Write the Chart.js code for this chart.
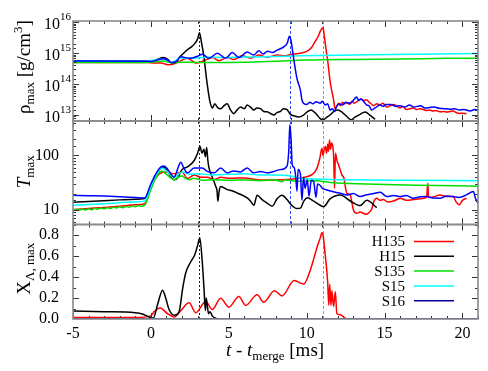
<!DOCTYPE html>
<html><head><meta charset="utf-8">
<script src="https://cdn.jsdelivr.net/npm/chart.js@4/dist/chart.umd.min.js"></script>
<style>html,body{margin:0;padding:0;background:#fff}#wrap{width:488px;height:371px}</style>
</head><body><div id="wrap"><canvas id="c" width="488" height="371"></canvas></div>
<script>
// ---------- data (t - t_merge [ms], value) ----------
const seriesNames = ['H135','H15','S135','S15','S16'];
const xMajorTicks = [-5,0,5,10,15,20];
const rhoDecades = [13,14,15,16];
const tempLabels = [10,100];
const markerTimes = [3.1, 8.95, 11.05];

// rho_max [g/cm^3]
const H135_rho = [[-5,5.0e14],[-2,5.0e14],[-0.3,5.0e14],[0.3,4.8e14],[0.64,4.8e14],[1.17,4.2e14],[1.7,5.0e14],[2.35,6.8e14],[2.9,4.8e14],[3.4,5.7e14],[3.95,7.2e14],[4.37,5.7e14],[4.9,7.2e14],[5.33,6.2e14],[5.86,8.3e14],[6.4,6.9e14],[6.93,8.7e14],[7.46,7.4e14],[8.1,8.7e14],[8.6,8.3e14],[9.17,9.4e14],[9.6,1.0e15],[10.04,1.17e15],[10.3,1.5e15],[10.56,2.45e15],[10.75,3.6e15],[10.87,5.1e15],[10.97,6.2e15],[11.05,6.6e15],[11.12,4.0e15],[11.2,1.95e15],[11.28,1.0e15],[11.35,5.8e14],[11.42,2.8e14],[11.5,1.3e14],[11.6,6.5e13],[11.7,3.8e13],[11.83,1.6e13],[11.95,2.0e13],[12.05,2.4e13],[12.16,2.0e13],[12.3,2.6e13],[12.4,2.3e13],[12.58,2.5e13],[12.75,2.2e13],[12.9,2.8e13],[13.05,2.4e13],[13.22,2.7e13],[13.35,3.0e13],[13.5,3.3e13],[13.65,2.9e13],[13.86,3.1e13],[14.0,2.6e13],[14.1,2.4e13],[14.3,2.0e13],[14.5,2.3e13],[14.7,2.1e13],[14.9,2.4e13],[15.14,1.8e13],[15.35,2.0e13],[15.6,2.2e13],[15.8,1.9e13],[15.99,1.7e13],[16.2,1.9e13],[16.4,1.5e13],[16.6,1.6e13],[16.85,1.7e13],[17.05,1.5e13],[17.3,1.6e13],[17.5,1.5e13],[17.7,1.4e13],[17.9,1.45e13],[18.1,1.35e13],[18.3,1.4e13],[18.55,1.27e13],[18.8,1.3e13],[19.0,1.25e13],[19.2,1.3e13],[19.4,1.35e13],[19.6,1.2e13],[19.8,1.12e13],[20.0,1.15e13],[20.26,1.1e13]];
const H15_rho = [[-5,5.6e14],[-1,5.6e14],[-0.3,5.5e14],[0,5.4e14],[0.4,6.3e14],[0.8,7.2e14],[1.1,6.2e14],[1.3,4.9e14],[1.6,5.0e14],[1.9,8.0e14],[2.1,1.0e15],[2.35,1.3e15],[2.6,1.6e15],[2.8,2.0e15],[3.0,2.9e15],[3.12,4.6e15],[3.25,2.2e15],[3.4,7.9e14],[3.6,1.15e14],[3.8,2.6e13],[3.95,1.7e13],[4.1,2.3e13],[4.3,1.7e13],[4.48,1.6e13],[4.7,2.0e13],[4.9,2.3e13],[5.1,1.5e13],[5.33,1.1e13],[5.5,1.4e13],[5.76,1.8e13],[6.0,1.6e13],[6.18,2.1e13],[6.4,1.8e13],[6.61,1.45e13],[6.8,1.7e13],[7.04,1.6e13],[7.25,1.3e13],[7.46,1.27e13],[7.7,1.1e13],[7.89,1.0e13],[8.1,1.2e13],[8.32,1.3e13],[8.5,1.6e13],[8.74,1.5e13],[8.96,1.05e13],[9.17,9.5e12],[9.5,8.6e12],[9.8,1.0e13],[10.02,1.25e13],[10.28,1.45e13],[10.6,1.1e13],[10.85,7.8e12],[11.05,7.0e12],[11.3,8.5e12],[11.5,1.0e13],[11.75,1.3e13],[12.0,1.45e13],[12.3,1.2e13],[12.6,8.8e12],[12.85,7.0e12],[13.1,8.5e12],[13.43,1.05e13],[13.75,1.25e13],[14.1,9.5e12],[14.4,7.3e12]];
const S135_rho = [[-5,5.0e14],[-0.3,5.0e14],[0.3,5.3e14],[0.8,5.6e14],[1.3,4.9e14],[2.0,5.1e14],[3.0,5.0e14],[4.0,5.0e14],[6.0,5.1e14],[8.0,5.5e14],[10.0,6.0e14],[13.0,6.3e14],[16.0,6.5e14],[19.0,6.8e14],[21.0,6.9e14]];
const S15_rho = [[-5,5.6e14],[-0.3,5.5e14],[0.4,6.2e14],[0.8,6.6e14],[1.3,5.0e14],[1.9,7.0e14],[2.6,6.8e14],[3.5,7.4e14],[4.5,7.3e14],[6.0,7.5e14],[8.0,7.8e14],[9.6,8.2e14],[13,8.7e14],[17,9.3e14],[21,9.8e14]];
const S16_rho = [[-5,5.6e14],[-0.3,5.5e14],[0,5.4e14],[0.4,6.0e14],[0.8,6.6e14],[1.1,5.8e14],[1.3,5.0e14],[1.6,5.3e14],[1.9,7.6e14],[2.5,6.8e14],[3.0,8.0e14],[3.3,9.3e14],[3.73,6.8e14],[4.27,1.0e15],[4.8,6.8e14],[5.22,1.05e15],[5.65,7.2e14],[6.18,1.1e15],[6.6,8.7e14],[6.93,1.2e15],[7.2,9.4e14],[7.5,1.15e15],[7.8,1.05e15],[8.1,1.25e15],[8.53,1.6e15],[8.75,2.1e15],[8.9,3.5e15],[9.0,2.5e15],[9.17,6.5e14],[9.38,1.5e14],[9.6,6.3e13],[9.7,3.0e13],[9.85,2.3e13],[10.02,2.2e13],[10.2,2.6e13],[10.4,2.3e13],[10.6,2.7e13],[10.87,2.4e13],[11.0,2.8e13],[11.2,2.1e13],[11.35,2.3e13],[11.5,1.45e13],[11.65,1.6e13],[11.8,1.3e13],[11.9,1.8e13],[12.1,2.3e13],[12.3,2.1e13],[12.5,2.6e13],[12.8,2.4e13],[13.0,3.0e13],[13.2,3.8e13],[13.35,3.0e13],[13.5,3.3e13],[13.7,2.6e13],[13.86,2.1e13],[14.0,2.0e13],[14.18,1.45e13],[14.4,1.7e13],[14.7,2.1e13],[14.9,1.9e13],[15.1,2.2e13],[15.4,2.2e13],[15.7,1.9e13],[15.99,2.0e13],[16.3,1.8e13],[16.6,2.1e13],[16.9,1.8e13],[17.3,2.0e13],[17.6,1.7e13],[17.9,1.75e13],[18.2,1.8e13],[18.5,1.65e13],[18.8,1.6e13],[19.2,1.55e13],[19.5,1.6e13],[19.8,1.45e13],[20.1,1.5e13],[20.5,1.35e13],[20.8,1.5e13],[21,1.45e13]];

// T_max [MeV]
const H135_T = [[-5,10.1],[-4,10.6],[-3,11.1],[-2,11.7],[-1,12.4],[-0.4,13],[0,25],[0.3,38],[0.64,48],[1.0,50],[1.49,46],[2.0,50],[2.35,37.6],[2.77,44],[3.2,40],[3.62,40],[4.05,36.1],[4.5,40],[5.0,38],[5.5,38.5],[6.0,38.7],[7.04,35.6],[7.9,35.6],[8.96,36.5],[9.6,38.5],[10.04,41],[10.4,46],[10.66,58],[10.85,90],[10.98,136],[11.05,100],[11.12,125],[11.2,146],[11.28,110],[11.35,160],[11.4,120],[11.47,193],[11.53,130],[11.6,170],[11.68,145],[11.73,100],[11.79,25],[11.85,110],[11.95,80],[12.05,67],[12.15,55],[12.26,44],[12.4,38],[12.5,25],[12.58,20.2],[12.8,19],[12.9,14],[13.0,10],[13.22,8.7],[13.43,9.2],[13.6,8.8],[13.86,8.3],[14.0,9.0],[14.18,10.4],[14.3,14],[14.5,16.4],[14.7,15],[14.92,15.5],[15.2,14],[15.57,14.6],[15.8,15.5],[16.0,16.4],[16.4,15],[16.85,15.5],[17.3,16],[17.7,17.2],[17.78,30.9],[17.82,17],[18.2,17.5],[18.55,18.9],[19.0,17.6],[19.4,17.6],[19.6,14],[19.8,12.4],[20.0,15],[20.26,16.4]];
const H15_T = [[-5,13.9],[-4,14.3],[-3,14.8],[-2,15.3],[-1,15.7],[-0.4,16.2],[0,28],[0.3,42],[0.64,58],[0.85,61],[1.1,50],[1.3,40],[1.49,36],[1.7,38],[2.0,55],[2.35,62],[2.77,80],[3.0,110],[3.15,148],[3.28,110],[3.4,130],[3.5,95],[3.58,140],[3.66,80],[3.73,59],[3.94,40],[4.16,27.3],[4.25,22],[4.3,14.5],[4.38,22],[4.48,27],[4.9,23.6],[5.2,22.5],[5.54,20.5],[6.18,16.6],[6.4,14.5],[6.61,12.2],[6.82,18.6],[7.14,15.5],[7.46,13.4],[7.78,11.7],[8.1,16],[8.42,18.6],[8.74,15.5],[9.0,12.5],[9.38,10.6],[9.6,10.8],[9.81,14.4],[10.04,16.8],[10.45,14.5],[10.8,12.5],[11.09,11.5],[11.5,16],[12.16,18.9],[12.8,14.6],[13.43,12.0],[13.86,15],[14.5,11.0]];
const S135_T = [[-5,9.7],[-4.8,10.3],[-4.6,9.9],[-4.4,10.4],[-4.2,10.0],[-4,10.5],[-3.8,10.1],[-3.6,10.7],[-3.4,10.3],[-3.2,10.8],[-3,10.5],[-2.8,11.0],[-2.6,10.6],[-2.4,11.2],[-2.2,10.8],[-2,11.4],[-1.8,11.0],[-1.6,11.6],[-1.4,11.2],[-1.2,11.8],[-1,11.4],[-0.8,12.0],[-0.6,11.7],[-0.4,12.2],[0,24],[0.3,38],[0.7,52],[1.0,45],[1.5,36],[1.7,39],[2.0,42],[2.2,38],[2.5,36],[2.7,38],[3.0,37],[3.3,35],[4.0,36],[5.0,35],[6.0,35.6],[7.0,34.5],[8.0,35.6],[8.4,33],[8.6,35.5],[9.6,33.5],[10.6,34.5],[11.7,31.5],[13.8,30],[17,28.5],[21,27.3]];
const S15_T = [[-5,12.2],[-3,13.0],[-1,14],[-0.4,14.5],[0,27],[0.3,42],[0.7,59],[1.0,52],[1.5,40],[2.0,50],[2.5,45],[3.0,46],[4,44],[5,45],[6,46],[7,44],[8,44],[9,42],[9.6,38],[12,36],[16,35],[21,34.5]];
const S16_T = [[-5,18.6],[-4,18.3],[-3,18.0],[-2,17.5],[-1,17.0],[-0.4,16.6],[0,30],[0.3,45],[0.64,62],[0.85,64],[1.1,55],[1.3,45],[1.5,40],[1.7,55],[1.92,75],[2.1,60],[2.35,48],[2.77,59],[3.3,59],[3.62,51],[4.05,48],[4.48,59],[4.9,48],[5.33,52],[5.76,50],[6.18,59],[6.6,48],[7.04,51],[7.46,48],[7.89,51],[8.32,55],[8.74,64],[8.85,120],[8.92,370],[9.0,200],[9.07,68],[9.2,60],[9.3,40],[9.38,22],[9.45,55],[9.6,45],[9.7,15],[9.8,40],[9.9,25],[10.04,36],[10.15,18],[10.3,35],[10.45,33],[10.6,17],[10.7,30],[10.87,28],[11.0,25],[11.3,23.3],[11.72,21.5],[12.16,20.2],[12.6,18.9],[13.0,20],[13.43,17.6],[13.86,19],[14.3,20],[14.72,21.2],[15.14,17.6],[15.6,18.5],[16.0,17.6],[16.4,18.5],[16.85,16.4],[17.3,17.5],[17.7,17.6],[18.1,16.5],[18.55,16.4],[19.0,18],[19.4,17.6],[19.8,17],[20.26,18.9],[20.7,21.7],[20.85,16],[21,13.3]];

// X_Lambda,max
const H135_X = [[-5,0.015],[-1,0.015],[0,0.03],[0.21,0.07],[0.6,0.105],[1.07,0.05],[1.5,0.02],[1.92,0.08],[2.45,0.154],[2.88,0.06],[3.52,0.167],[3.94,0.09],[4.48,0.198],[5.0,0.113],[5.65,0.214],[6.08,0.13],[6.82,0.23],[7.25,0.16],[7.93,0.27],[8.42,0.22],[9.2,0.366],[9.81,0.333],[10.2,0.45],[10.45,0.57],[10.7,0.7],[10.88,0.775],[10.98,0.825],[11.05,0.8],[11.2,0.60],[11.35,0.35],[11.42,0.13],[11.48,0.33],[11.56,0.13],[11.62,0.27],[11.73,0.12],[11.84,0.26],[11.94,0.05],[12.16,0.04],[12.58,0.0],[21,0.0]];
const H15_X = [[-5,0.076],[-3,0.07],[-1,0.06],[-0.5,0.045],[-0.2,0.025],[0.15,0.008],[0.45,0.15],[0.75,0.275],[0.95,0.2],[1.17,0.09],[1.5,0.035],[1.81,0.07],[2.05,0.3],[2.24,0.44],[2.56,0.545],[2.81,0.61],[3.0,0.7],[3.14,0.775],[3.3,0.54],[3.41,0.29],[3.5,0.08],[3.55,0.2],[3.62,0.13],[3.7,0.05],[3.8,0.07],[3.94,0.03],[4.27,0.0]];
const S135_X = [[-5,0],[21,0]];
const S15_X = [[-5,0],[21,0]];
const S16_X = [[-5,0],[21,0]];

// ---------- chart ----------
const SERIF = '"Liberation Serif","DejaVu Serif",serif';
const colors = {H135:'#ff0000', H15:'#000000', S135:'#00e000', S15:'#00ffff', S16:'#0000ff'};
const legendColors = {H135:'#ff0000', H15:'#000000', S135:'#00e000', S15:'#00ffff', S16:'#00009c'};
const drawOrder = {S16:1, S15:2, S135:3, H15:4, H135:5};
const panels = {
  yR: {H135:H135_rho, H15:H15_rho, S135:S135_rho, S15:S15_rho, S16:S16_rho},
  yT: {H135:H135_T, H15:H15_T, S135:S135_T, S15:S15_T, S16:S16_T},
  yX: {H135:H135_X, H15:H15_X, S135:S135_X, S15:S15_X, S16:S16_X}
};
const datasets = [];
for (const axis of ['yR','yT','yX']) {
  for (const name of seriesNames) {
    datasets.push({
      label: name, yAxisID: axis,
      data: panels[axis][name].map(p => ({x:p[0], y:p[1]})),
      borderColor: (axis==='yX' && name==='S16') ? '#00009c' : colors[name],
      borderWidth: 1.5, pointRadius: 0, cubicInterpolationMode: 'monotone', fill: false,
      order: drawOrder[name]
    });
  }
}
const fixW = s => { s.width = 73; };
const yCommon = {
  stack: 'panels', position: 'left', afterFit: fixW,
  grid: {display: false}, border: {display: false}
};

function rich(ctx, parts, x, y, rot) {
  ctx.save(); ctx.translate(x, y); if (rot) ctx.rotate(-Math.PI/2);
  let w = 0; parts.forEach(p => { ctx.font = p[1]; w += ctx.measureText(p[0]).width; });
  let cx = -w/2; ctx.textBaseline = 'alphabetic'; ctx.textAlign = 'left'; ctx.fillStyle = '#000';
  parts.forEach(p => { ctx.font = p[1]; ctx.fillText(p[0], cx, p[2] || 0); cx += ctx.measureText(p[0]).width; });
  ctx.restore();
}

const decor = {
  id: 'decor',
  beforeDatasetsDraw(chart) {
    const ctx = chart.ctx, xs = chart.scales.x, ca = chart.chartArea;
    const ends = [chart.scales.yX.bottom, chart.scales.yT.bottom, chart.scales.yX.bottom];
    const styles = [['#222',[2,2]],['#3050ff',[3,2]],['#ff7070',[3,2]]];
    ctx.save(); ctx.lineWidth = 1;
    markerTimes.forEach((t,i) => {
      const px = Math.round(xs.getPixelForValue(t)) + 0.5;
      ctx.strokeStyle = styles[i][0]; ctx.setLineDash(styles[i][1]);
      ctx.beginPath(); ctx.moveTo(px, ca.top); ctx.lineTo(px, ends[i]); ctx.stroke();
    });
    ctx.restore();
  },
  afterDraw(chart) {
    const ctx = chart.ctx, xs = chart.scales.x, ca = chart.chartArea;
    ctx.save();
    // ticks
    ctx.strokeStyle = '#333'; ctx.lineWidth = 1; ctx.setLineDash([]);
    const seg = (a,b,c,d) => { ctx.beginPath(); ctx.moveTo(a,b); ctx.lineTo(c,d); ctx.stroke(); };
    for (const id of ['yR','yT','yX']) {
      const s = chart.scales[id];
      for (let t = -5; t <= 21; t++) {
        const px = Math.round(xs.getPixelForValue(t)) + 0.5, L = (t % 5 === 0) ? 6 : 3;
        seg(px, s.top, px, s.top + L); seg(px, s.bottom, px, s.bottom - L);
      }
      let vals, isMajor;
      if (id === 'yX') { vals = []; for (let k = 0; k <= 9; k++) vals.push(k/10); isMajor = v => Math.round(v*10) % 2 === 0; }
      else { vals = s.ticks.map(k => k.value); isMajor = v => Math.abs(Math.log10(v) - Math.round(Math.log10(v))) < 1e-6; }
      vals.forEach(v => {
        const py = Math.round(s.getPixelForValue(v)) + 0.5;
        if (py < s.top + 1 || py > s.bottom - 1) return;
        const L = isMajor(v) ? 6 : 3;
        seg(ca.left, py, ca.left + L, py); seg(ca.right, py, ca.right - L, py);
      });
    }
    // frames
    ctx.strokeStyle = '#8a8a8a'; ctx.lineWidth = 1.6;
    for (const id of ['yR','yT','yX']) {
      const s = chart.scales[id];
      ctx.strokeRect(ca.left, s.top, ca.right - ca.left, s.bottom - s.top);
    }
    // rho tick labels 10^n
    ctx.fillStyle = '#000'; ctx.textBaseline = 'alphabetic'; ctx.textAlign = 'right';
    const yR = chart.scales.yR;
    rhoDecades.forEach(e => {
      const py = yR.getPixelForValue(Math.pow(10, e));
      ctx.font = '11px ' + SERIF; const sw = ctx.measureText(String(e)).width;
      ctx.fillText(String(e), 71, py - 2);
      ctx.font = '16px ' + SERIF; ctx.fillText('10', 71 - sw, py + 6.5);
    });
    // axis titles
    const big = '19px ' + SERIF, bigI = 'italic 19px ' + SERIF, sub = '13px ' + SERIF;
    rich(ctx, [['ρ', big, 0], ['max', sub, 4], [' [g/cm', big, 0], ['3', sub, -8], [']', big, 0]], 30, (yR.top + yR.bottom)/2 - 4, true);
    const yT = chart.scales.yT;
    rich(ctx, [['T', bigI, 0], ['max', sub, 4]], 30, (yT.top + yT.bottom)/2 - 1, true);
    const yX = chart.scales.yX;
    rich(ctx, [['X', big, 0], ['Λ, max', sub, 4]], 30, (yX.top + yX.bottom)/2 - 3, true);
    rich(ctx, [['t', bigI, 0], [' - ', big, 0], ['t', bigI, 0], ['merge', sub, 4], [' [ms]', big, 0]], 275, 356, false);
    // legend
    ctx.font = '15px ' + SERIF; ctx.textAlign = 'right'; ctx.textBaseline = 'middle';
    seriesNames.forEach((n, i) => {
      const y = yX.top + 17 + i * 14.8;
      ctx.fillStyle = '#000'; ctx.fillText(n, 405, y + 1);
      ctx.strokeStyle = legendColors[n]; ctx.lineWidth = 1.5;
      seg(414, y, 454, y);
    });
    ctx.restore();
  }
};

new Chart(document.getElementById('c'), {
  type: 'line',
  data: { datasets },
  options: {
    responsive: false, animation: false, devicePixelRatio: 1,
    layout: { padding: { top: 21, right: 10, left: 0, bottom: 0 } },
    plugins: { legend: {display: false}, tooltip: {enabled: false} },
    scales: {
      x: {
        type: 'linear', min: -5, max: 21,
        afterFit: s => { s.height = 52; },
        grid: {display: false}, border: {display: false},
        ticks: { stepSize: 5, includeBounds: false, autoSkip: false, padding: -3, color: '#000', font: {family: SERIF, size: 16}, maxRotation: 0 }
      },
      yR: Object.assign({}, yCommon, { type: 'logarithmic', min: 6.4e12, max: 1.1e16, stackWeight: 100, weight: 3,
        ticks: { autoSkip: false, callback: () => '' } }),
      yT: Object.assign({}, yCommon, { type: 'logarithmic', min: 5.4, max: 430, stackWeight: 103.5, weight: 2,
        ticks: { autoSkip: false, padding: 6, color: '#000', font: {family: SERIF, size: 16},
          callback: v => tempLabels.includes(v) ? String(v) : '' } }),
      yX: Object.assign({}, yCommon, { type: 'linear', min: 0, max: 0.9, stackWeight: 94.5, weight: 1,
        ticks: { stepSize: 0.2, includeBounds: false, autoSkip: false, padding: 6, color: '#000', font: {family: SERIF, size: 16},
          callback: v => v.toFixed(1) } })
    }
  },
  plugins: [decor]
});
</script></body></html>
